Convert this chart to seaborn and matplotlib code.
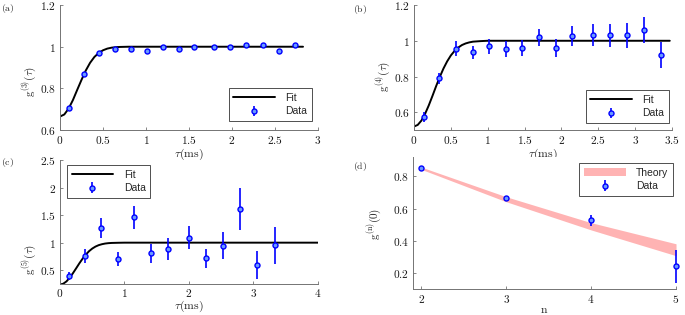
import matplotlib
matplotlib.use('Agg')
import matplotlib.pyplot as plt
from matplotlib.ticker import FuncFormatter
import seaborn as sns

# ---- panel (a): g3 ----
a_tau = [0.105, 0.279, 0.457, 0.643, 0.825, 1.007, 1.192, 1.378, 1.560,
         1.793, 1.982, 2.164, 2.358, 2.547, 2.729]
a_g = [0.707, 0.869, 0.969, 0.987, 0.989, 0.980, 1.000, 0.987, 1.000,
       1.000, 0.998, 1.009, 1.008, 0.981, 1.006]
a_err = [0.010, 0.010, 0.008, 0.008, 0.008, 0.009, 0.008, 0.009, 0.008,
         0.008, 0.009, 0.010, 0.010, 0.010, 0.011]
a_fit_t = [0, 0.05, 0.1, 0.15, 0.2, 0.25, 0.3, 0.35, 0.4, 0.45, 0.5, 0.55,
           0.6, 0.65, 0.7, 0.8, 2.826]
a_fit_g = [0.665, 0.675, 0.703, 0.744, 0.793, 0.841, 0.886, 0.923, 0.951,
           0.970, 0.983, 0.991, 0.9955, 0.998, 0.999, 1.0, 1.0]

# ---- panel (b): g4 ----
b_tau = [0.136, 0.343, 0.569, 0.795, 1.016, 1.242, 1.468, 1.694, 1.924,
         2.150, 2.430, 2.656, 2.891, 3.117, 3.347]
b_g = [0.574, 0.791, 0.954, 0.935, 0.969, 0.954, 0.961, 1.019, 0.961,
       1.028, 1.033, 1.030, 1.030, 1.061, 0.922]
b_err = [0.028, 0.031, 0.042, 0.038, 0.043, 0.043, 0.046, 0.048, 0.050,
         0.055, 0.060, 0.063, 0.068, 0.072, 0.072]
b_fit_t = [0, 0.05, 0.1, 0.15, 0.2, 0.25, 0.3, 0.35, 0.4, 0.45, 0.5, 0.55,
           0.6, 0.65, 0.7, 0.75, 0.8, 0.9, 1.0, 3.47]
b_fit_g = [0.520, 0.529, 0.553, 0.591, 0.638, 0.691, 0.746, 0.798, 0.845,
           0.885, 0.918, 0.943, 0.962, 0.976, 0.985, 0.991, 0.995, 0.998,
           1.0, 1.0]

# ---- panel (c): g5 ----
c_tau = [0.145, 0.392, 0.640, 0.893, 1.146, 1.409, 1.672, 2.003, 2.271,
         2.529, 2.792, 3.061, 3.329]
c_g = [0.396, 0.756, 1.262, 0.707, 1.457, 0.805, 0.890, 1.091, 0.713,
       0.945, 1.604, 0.598, 0.957]
c_err = [0.076, 0.128, 0.180, 0.130, 0.200, 0.165, 0.200, 0.210, 0.170,
         0.240, 0.380, 0.250, 0.335]
c_fit_t = [0, 0.05, 0.1, 0.15, 0.2, 0.25, 0.3, 0.35, 0.4, 0.45, 0.5, 0.55,
           0.6, 0.65, 0.7, 0.75, 0.8, 0.9, 1.0, 4.0]
c_fit_g = [0.240, 0.255, 0.297, 0.363, 0.445, 0.534, 0.625, 0.709, 0.783,
           0.845, 0.893, 0.929, 0.955, 0.972, 0.984, 0.991, 0.995, 0.998,
           1.0, 1.0]

# ---- panel (d): g(n)(0) ----
d_n = [2, 3, 4, 5]
d_g = [0.851, 0.666, 0.527, 0.241]
d_err = [0.010, 0.010, 0.034, 0.103]
d_theory_hi = [0.857, 0.673, 0.512, 0.381]
d_theory_lo = [0.843, 0.642, 0.467, 0.307]

sns.set_style('ticks')
plt.rcParams['mathtext.fontset'] = 'cm'
plt.rcParams['font.family'] = ['DejaVu Sans']
plt.rcParams['xtick.direction'] = 'in'
plt.rcParams['ytick.direction'] = 'in'

AX_COL = '0.45'
BLUE = '#0000ff'
MFC = '#6a9bff'
TICK_FS = 8.2
LEG_FONT = {'family': 'Liberation Sans', 'size': 7.5}

fig = plt.figure(figsize=(6.85, 3.15), dpi=100)
ax_a = fig.add_axes([0.0876, 0.587, 0.3766, 0.397])
ax_b = fig.add_axes([0.6044, 0.587, 0.3766, 0.397])
ax_c = fig.add_axes([0.0876, 0.0984, 0.3766, 0.3937])
ax_d = fig.add_axes([0.6029, 0.0825, 0.3840, 0.419])

fmt = FuncFormatter(lambda v, p: '$%g$' % round(v, 3))


def style(ax, xlim, ylim, xticks, yticks):
    ax.set_xlim(*xlim)
    ax.set_ylim(*ylim)
    ax.set_xticks(xticks)
    ax.set_yticks(yticks)
    ax.xaxis.set_major_formatter(fmt)
    ax.yaxis.set_major_formatter(fmt)
    for s in ['top', 'right']:
        ax.spines[s].set_visible(False)
    for s in ['left', 'bottom']:
        ax.spines[s].set_color(AX_COL)
        ax.spines[s].set_linewidth(0.7)
    ax.tick_params(length=2.5, width=0.6, color=AX_COL, labelsize=TICK_FS,
                   labelcolor='0.1', pad=3)


def data(ax, x, y, e):
    ax.errorbar(x, y, yerr=e, fmt='o', color=BLUE, mfc=MFC, mec=BLUE,
                ms=3.6, mew=1.0, elinewidth=1.2, capsize=0, label='Data',
                clip_on=False, zorder=4)


def legend(ax, loc, anchor):
    leg = ax.legend(loc=loc, bbox_to_anchor=anchor, prop=LEG_FONT,
                    fancybox=False, edgecolor='0.2', framealpha=1,
                    handlelength=4.0, handletextpad=1.0, borderpad=0.45,
                    labelspacing=0.35, borderaxespad=0)
    leg.get_frame().set_linewidth(0.6)


def labels(ax, xl, yl, xpos, ypos, ylx=-0.08):
    ax.set_xlabel(xl, fontsize=8.5)
    ax.set_ylabel(yl, fontsize=8)
    ax.xaxis.set_label_coords(0.5, xpos)
    ax.yaxis.set_label_coords(ylx, ypos)


# (a)
sns.lineplot(x=a_fit_t, y=a_fit_g, ax=ax_a, color='k', lw=1.4, label='Fit',
             sort=False, estimator=None)
data(ax_a, a_tau, a_g, a_err)
style(ax_a, (0, 3), (0.6, 1.2), [0, 0.5, 1, 1.5, 2, 2.5, 3],
      [0.6, 0.8, 1, 1.2])
labels(ax_a, r'$\tau(\mathrm{ms})$', r'$\mathrm{g}^{(3)}(\tau)$', -0.135, 0.39)
legend(ax_a, 'lower right', (0.977, 0.072))

# (b)
sns.lineplot(x=b_fit_t, y=b_fit_g, ax=ax_b, color='k', lw=1.4, label='Fit',
             sort=False, estimator=None)
data(ax_b, b_tau, b_g, b_err)
style(ax_b, (0, 3.5), (0.5, 1.2), [0, 0.5, 1, 1.5, 2, 2.5, 3, 3.5],
      [0.6, 0.8, 1, 1.2])
labels(ax_b, r'$\tau(\mathrm{ms})$', r'$\mathrm{g}^{(4)}(\tau)$', -0.135, 0.43)
legend(ax_b, 'lower right', (0.988, 0.056))

# (c)
sns.lineplot(x=c_fit_t, y=c_fit_g, ax=ax_c, color='k', lw=1.4, label='Fit',
             sort=False, estimator=None)
data(ax_c, c_tau, c_g, c_err)
style(ax_c, (0, 4), (0.25, 2.5), [0, 1, 2, 3, 4],
      [0.5, 1, 1.5, 2, 2.5])
ax_c.tick_params(axis='x', pad=2)
labels(ax_c, r'$\tau(\mathrm{ms})$', r'$\mathrm{g}^{(5)}(\tau)$', -0.122, 0.2)
legend(ax_c, 'upper left', (0.027, 0.96))

# (d)
ax_d.fill_between(d_n, d_theory_lo, d_theory_hi, color='#ffb3b3', lw=0,
                  label='Theory', zorder=2)
data(ax_d, d_n, d_g, d_err)
style(ax_d, (1.9, 5), (0.1, 0.92), [2, 3, 4, 5], [0.2, 0.4, 0.6, 0.8])
labels(ax_d, r'$\mathrm{n}$', r'$\mathrm{g}^{(\mathrm{n})}(0)$', -0.105, 0.495,
       ylx=-0.11)
legend(ax_d, 'upper right', (0.989, 0.955))

for lbl, x, y in [('(a)', 1, 2), ('(b)', 353, 3), ('(c)', 1, 156),
                  ('(d)', 353, 160)]:
    fig.text(x / 685, 1 - y / 315, r'$\mathrm{%s}$' % lbl, fontsize=7,
             ha='left', va='top')

fig.savefig('out.png', dpi=100)
